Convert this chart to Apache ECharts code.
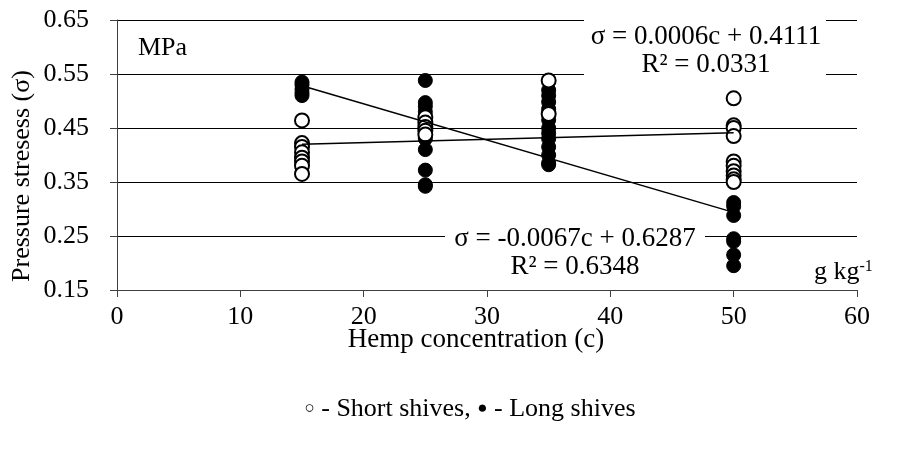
<!DOCTYPE html>
<html>
<head>
<meta charset="utf-8">
<script src="https://cdn.jsdelivr.net/npm/echarts@6/dist/echarts.min.js"></script>
<style>html,body{margin:0;padding:0;background:#fff}#c{width:904px;height:452px}</style>
</head>
<body>
<div id="c"></div>
<script>
// ---- data ----
var xTicks = [0, 10, 20, 30, 40, 50, 60];
var yTicks = [0.15, 0.25, 0.35, 0.45, 0.55, 0.65];
var shortShives = [
  [15, 0.464], [15, 0.422], [15, 0.415], [15, 0.405], [15, 0.395], [15, 0.388], [15, 0.380], [15, 0.365],
  [25, 0.470], [25, 0.460], [25, 0.452], [25, 0.445], [25, 0.438],
  [35, 0.538], [35, 0.476],
  [50, 0.505], [50, 0.455], [50, 0.450], [50, 0.435], [50, 0.388], [50, 0.380], [50, 0.370], [50, 0.362], [50, 0.355], [50, 0.350]
];
var longShives = [
  [15, 0.535], [15, 0.530], [15, 0.522], [15, 0.515], [15, 0.510],
  [25, 0.538], [25, 0.497], [25, 0.490], [25, 0.480], [25, 0.430], [25, 0.410], [25, 0.372], [25, 0.345], [25, 0.342],
  [35, 0.520], [35, 0.510], [35, 0.498], [35, 0.485], [35, 0.465], [35, 0.450], [35, 0.440], [35, 0.430], [35, 0.415], [35, 0.400], [35, 0.385], [35, 0.382],
  [50, 0.312], [50, 0.305], [50, 0.288], [50, 0.245], [50, 0.240], [50, 0.215], [50, 0.195]
];
var trendRange = [15, 50];
var shortFit = { slope: 0.0006, intercept: 0.4111 };
var longFit = { slope: -0.0067, intercept: 0.6287 };

function fitLine(f) { return trendRange.map(function (x) { return [x, f.slope * x + f.intercept]; }); }

var FONT = '"Liberation Serif","Times New Roman",serif';
var FS = 26;
var FT = 27;
var chart = echarts.init(document.getElementById('c'), null, { renderer: 'canvas' });
chart.setOption({
  animation: false,
  backgroundColor: '#fff',
  grid: { left: 117, right: 47, top: 20, bottom: 162, containLabel: false },
  xAxis: {
    type: 'value', min: 0, max: 60, interval: 10,
    axisLine: { show: true, lineStyle: { color: '#404040', width: 1 } },
    axisTick: { show: true, length: 7, lineStyle: { color: '#404040' } },
    axisLabel: { fontFamily: FONT, fontSize: FS, color: '#000', margin: 14 },
    splitLine: { show: false }
  },
  yAxis: {
    type: 'value', min: 0.15, max: 0.65,
    axisLine: { show: true, lineStyle: { color: '#404040', width: 1 } },
    axisTick: { show: true, length: 7, customValues: yTicks, lineStyle: { color: '#404040' } },
    axisLabel: { fontFamily: FONT, fontSize: FS, color: '#000', margin: 28, customValues: yTicks,
      formatter: function (v) { return v.toFixed(2); } },
    splitLine: { show: true, lineStyle: { color: '#000', width: 1 } }
  },
  graphic: [
    { type: 'rect', z: 50, shape: { x: 584, y: 14, width: 242, height: 66 }, style: { fill: '#fff' } },
    { type: 'text', z: 51, x: 706, y: 23, style: { text: 'σ = 0.0006c + 0.4111\nR² = 0.0331', fontFamily: FONT, fontSize: FT, lineHeight: 28, align: 'center', fill: '#000' } },
    { type: 'rect', z: 50, shape: { x: 445, y: 226, width: 260, height: 50 }, style: { fill: '#fff' } },
    { type: 'text', z: 51, x: 575, y: 225, style: { text: 'σ = -0.0067c + 0.6287\nR² = 0.6348', fontFamily: FONT, fontSize: FT, lineHeight: 28, align: 'center', fill: '#000' } },
    { type: 'text', z: 51, x: 138, y: 35, style: { text: 'MPa', fontFamily: FONT, fontSize: FS, fill: '#000' } },
    { type: 'text', z: 51, x: 814, y: 259, style: { text: 'g kg{s|-1}', fontFamily: FONT, fontSize: FS, fill: '#000',
        rich: { s: { fontFamily: FONT, fontSize: 16, verticalAlign: 'top', padding: [0, 0, 10, 0] } } } },
    { type: 'text', z: 51, x: 22, y: 176, rotation: Math.PI / 2, style: { text: 'Pressure stresess (σ)', fontFamily: FONT, fontSize: FS, fill: '#000', align: 'center', verticalAlign: 'middle' } },
    { type: 'text', z: 51, x: 476, y: 340, style: { text: 'Hemp concentration (c)', fontFamily: FONT, fontSize: FT, fill: '#000', align: 'center', verticalAlign: 'middle' } },
    { type: 'text', z: 51, x: 470, y: 409, style: { text: '{m|○} - Short shives, {m|●} - Long shives', fontFamily: FONT, fontSize: FS, fill: '#000', align: 'center', verticalAlign: 'middle',
        rich: { m: { fontFamily: FONT, fontSize: 17 } } } }
  ],
  series: [
    { type: 'scatter', name: 'Long shives', data: longShives, symbol: 'circle', symbolSize: 14, z: 3,
      itemStyle: { color: '#000', borderColor: '#000', borderWidth: 1, opacity: 1 } },
    { type: 'scatter', name: 'Short shives', data: shortShives, symbol: 'circle', symbolSize: 14, z: 4,
      itemStyle: { color: '#fff', borderColor: '#000', borderWidth: 2, opacity: 1 } },
    { type: 'line', name: 'Short fit', data: fitLine(shortFit), symbol: 'none', z: 5, lineStyle: { color: '#000', width: 1.5 } },
    { type: 'line', name: 'Long fit', data: fitLine(longFit), symbol: 'none', z: 5, lineStyle: { color: '#000', width: 1.5 } }
  ]
});
</script>
</body>
</html>
